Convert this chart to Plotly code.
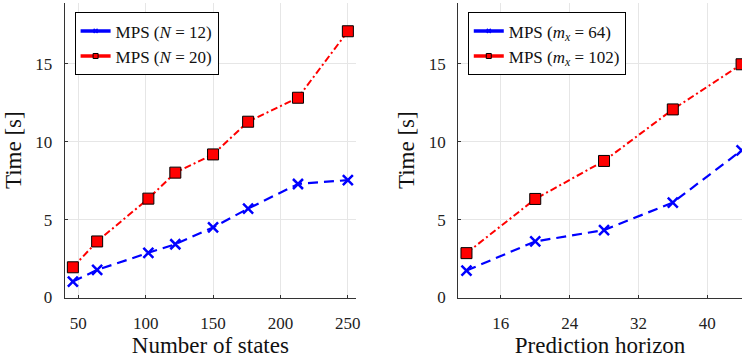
import plotly.graph_objects as go

# ---- data ----
states = [46, 64, 102, 122, 150, 176, 213, 250]
time_N12 = [1.02, 1.77, 2.87, 3.42, 4.50, 5.71, 7.29, 7.54]
time_N20 = [1.94, 3.60, 6.35, 8.02, 9.19, 11.29, 12.83, 17.10]

horizon = [12, 20, 28, 36, 44]
time_m64 = [1.73, 3.60, 4.33, 6.10, 9.45]
time_m102 = [2.85, 6.33, 8.77, 12.08, 14.98]

left_xticks = [50, 100, 150, 200, 250]
right_xticks = [16, 24, 32, 40]
yticks = [0, 5, 10, 15]

lbl_N12 = "MPS (<i>N</i> = 12)"
lbl_N20 = "MPS (<i>N</i> = 20)"
lbl_m64 = "MPS (<i>m</i><sub><i>x</i></sub> = 64)"
lbl_m102 = "MPS (<i>m</i><sub><i>x</i></sub> = 102)"

BLUE = "#0000FF"
RED = "#FF0000"
FONT = "Liberation Serif"

fig = go.Figure()

def add_series(x, y, xa, ya, color, dash, symbol, msize, mline, mlinecolor, width):
    fig.add_trace(go.Scatter(
        x=x, y=y, xaxis=xa, yaxis=ya, mode="lines+markers",
        line=dict(color=color, width=width, dash=dash),
        marker=dict(symbol=symbol, size=msize, color=color,
                    line=dict(width=mline, color=mlinecolor)),
        showlegend=False, hoverinfo="skip"))

def add_legend_entry(name, color, symbol, msize, mline, mlinecolor, legend):
    fig.add_trace(go.Scatter(
        x=[None], y=[None], mode="lines+markers", name=name, legend=legend,
        line=dict(color=color, width=3.5),
        marker=dict(symbol=symbol, size=msize, color=color,
                    line=dict(width=mline, color=mlinecolor)),
        showlegend=True))

# left panel
add_series(states, time_N12, "x", "y", BLUE, "10px,6px", "x-thin", 10, 2.5, BLUE, 2.2)
add_series(states, time_N20, "x", "y", RED, "7px,3px,2px,3px", "square", 11, 1, "black", 2.0)
# right panel
add_series(horizon, time_m64, "x2", "y2", BLUE, "10px,6px", "x-thin", 10, 2.5, BLUE, 2.2)
add_series(horizon, time_m102, "x2", "y2", RED, "7px,3px,2px,3px", "square", 11, 1, "black", 2.0)

add_legend_entry(lbl_N12, BLUE, "x-thin", 4, 1.5, BLUE, "legend")
add_legend_entry(lbl_N20, RED, "square", 5, 1, "black", "legend")
add_legend_entry(lbl_m64, BLUE, "x-thin", 4, 1.5, BLUE, "legend2")
add_legend_entry(lbl_m102, RED, "square", 5, 1, "black", "legend2")

W, H = 746, 360
ydom = [(H - 306) / H, (H - 3) / H]

axis_common = dict(
    showline=True, linecolor="#333333", linewidth=1,
    ticks="inside", ticklen=3, tickcolor="#333333",
    showgrid=True, gridcolor="#E6E6E6", gridwidth=1,
    zeroline=False, mirror=False,
    tickfont=dict(family=FONT, size=17, color="#222222"),
)

title_font = dict(family=FONT, size=23, color="#111111")

legend_common = dict(
    bgcolor="white", bordercolor="black", borderwidth=1,
    font=dict(family=FONT, size=17, color="#111111"),
    xanchor="left", yanchor="top", itemwidth=30, tracegroupgap=0,
)

fig.update_layout(
    width=W, height=H,
    margin=dict(l=0, r=0, t=0, b=0),
    paper_bgcolor="white", plot_bgcolor="white",
    font=dict(family=FONT, color="#111111"),
    xaxis=dict(domain=[65 / W, 358 / W], range=[39.9, 256.1], tickvals=left_xticks,
               ticklabelstandoff=10, anchor="y",
               title=dict(text="Number of states", font=title_font, standoff=3),
               **axis_common),
    yaxis=dict(domain=ydom, range=[0, 18.92], tickvals=yticks, anchor="x",
               ticklabelstandoff=8,
               title=dict(text="Time [s]", font=title_font, standoff=7),
               **axis_common),
    xaxis2=dict(domain=[460.7 / W, 1.0], range=[11.04, 44.05], tickvals=right_xticks,
                ticklabelstandoff=10, anchor="y2",
                title=dict(text="Prediction horizon", font=title_font, standoff=3),
                **axis_common),
    yaxis2=dict(domain=ydom, range=[0, 18.92], tickvals=yticks, anchor="x2",
                ticklabelstandoff=8,
                title=dict(text="Time [s]", font=title_font, standoff=7),
                **axis_common),
    legend=dict(x=75 / W, y=1 - 12.7 / H, **legend_common),
    legend2=dict(x=470.3 / W, y=1 - 12.7 / H, **legend_common),
)

fig.write_html("out.html")
